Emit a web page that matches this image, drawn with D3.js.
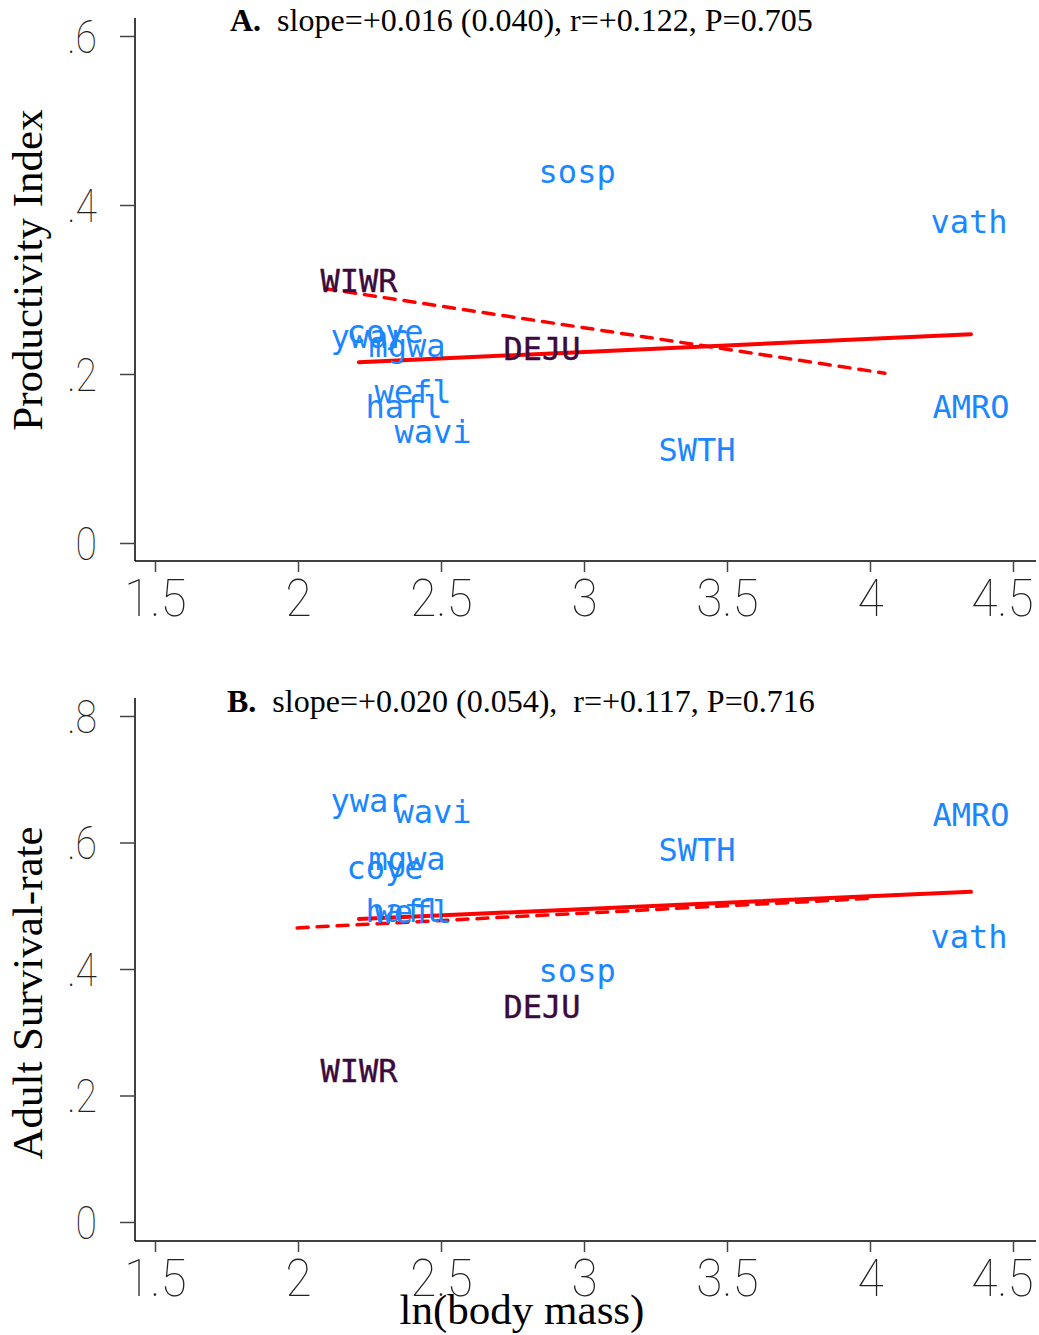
<!DOCTYPE html>
<html>
<head>
<meta charset="utf-8">
<script src="https://cdn.jsdelivr.net/npm/d3@7"></script>
<style>
  body { margin: 0; background: #fff; }
  svg { display: block; }
</style>
</head>
<body>
<svg width="1039" height="1335"></svg>
<script>
// species, ln(body mass), and the two response values
var species = ["WIWR", "ywar", "coye", "hafl", "mgwa", "wefl", "wavi", "DEJU", "sosp", "SWTH", "vath", "AMRO"];
var lnMass = [2.213, 2.248, 2.304, 2.371, 2.381, 2.402, 2.472, 2.853, 2.976, 3.395, 4.346, 4.353];
var productivity = [0.310, 0.244, 0.250, 0.161, 0.233, 0.179, 0.131, 0.230, 0.439, 0.110, 0.380, 0.161];
var survival = [0.239, 0.666, 0.560, 0.492, 0.574, 0.490, 0.648, 0.340, 0.397, 0.588, 0.451, 0.643];
var darkSpecies = ["WIWR", "DEJU"];

// fitted lines (endpoints)
var fitA = [[2.213, 0.214], [4.353, 0.247]];
var fitADash = [[2.094, 0.301], [4.052, 0.201]];
var fitB = [[2.213, 0.479], [4.353, 0.522]];
var fitBDash = [[1.997, 0.465], [4.017, 0.512]];

var xTicks = [1.5, 2, 2.5, 3, 3.5, 4, 4.5];
var yTicksA = [0, 0.2, 0.4, 0.6];
var yTicksB = [0, 0.2, 0.4, 0.6, 0.8];

var titleA = "slope=+0.016 (0.040), r=+0.122, P=0.705";
var titleB = "slope=+0.020 (0.054),  r=+0.117, P=0.716";

var svg = d3.select("svg");
var blue = "#1a87ff", dark = "#3c0a3c";

var xScale = d3.scaleLinear().domain([1.5, 4.5]).range([155, 1013]);

var fmt = function(d) { return d === 0 ? "0" : d3.format(".1f")(d).replace("0.", "."); };

var drawPanel = function(opt)
{
    var yScale = d3.scaleLinear().domain(opt.yDomain).range(opt.yRange);
    var g = svg.append("g");

    // axis lines
    g.append("line").attr("x1", 135).attr("x2", 135)
        .attr("y1", opt.top).attr("y2", opt.bottom)
        .attr("stroke", "#000").attr("stroke-width", 1.5);
    g.append("line").attr("x1", 135).attr("x2", 1036)
        .attr("y1", opt.bottom).attr("y2", opt.bottom)
        .attr("stroke", "#000").attr("stroke-width", 1.5);

    // x axis
    var xAxis = g.append("g")
        .attr("transform", "translate(0," + opt.bottom + ")")
        .call(d3.axisBottom(xScale).tickValues(xTicks).tickSize(11).tickPadding(0).tickFormat(d3.format("")));
    xAxis.select(".domain").remove();
    xAxis.selectAll("line").attr("stroke", "#444").attr("stroke-width", 1.5);
    xAxis.selectAll("text")
        .attr("y", 55).attr("dy", 0)
        // last label is pulled in so it stays inside the frame
        .attr("x", function(d) { return d === 4.5 ? -11 / 0.92 : 0; })
        .attr("transform", "scale(0.92,1)")
        .style("font-family", "Roboto, 'DejaVu Sans', sans-serif")
        .style("font-weight", 100)
        .style("font-size", "52px")
        .attr("fill", "#222");

    // y axis
    var yAxis = g.append("g")
        .attr("transform", "translate(135,0)")
        .call(d3.axisLeft(yScale).tickValues(opt.yTicks).tickSize(15).tickPadding(0).tickFormat(fmt));
    yAxis.select(".domain").remove();
    yAxis.selectAll("line").attr("stroke", "#444").attr("stroke-width", 1.5);
    yAxis.selectAll("text")
        .attr("x", -38 / 0.85).attr("dy", 16)
        .attr("transform", "scale(0.85,1)")
        .style("font-family", "Roboto, 'DejaVu Sans', sans-serif")
        .style("font-weight", 100)
        .style("font-size", "46px")
        .attr("fill", "#222");

    // fit lines
    var line = d3.line().x(function(d) { return xScale(d[0]); }).y(function(d) { return yScale(d[1]); });
    g.append("path").datum(opt.dash).attr("d", line)
        .attr("fill", "none").attr("stroke", "#ff0000").attr("stroke-width", 3.5)
        .attr("stroke-dasharray", "11,9").attr("stroke-linecap", "round");
    g.append("path").datum(opt.fit).attr("d", line)
        .attr("fill", "none").attr("stroke", "#ff0000").attr("stroke-width", 4)
        .attr("stroke-linecap", "round");

    // species labels
    var pts = species.map(function(s, i) { return {name: s, x: lnMass[i], y: opt.values[i]}; });
    g.selectAll("text.sp")
        .data(pts)
        .enter()
        .append("text")
        .attr("class", "sp")
        .attr("x", function(d) { return xScale(d.x); })
        .attr("y", function(d) { return yScale(d.y); })
        .attr("dy", 11)
        .attr("text-anchor", "middle")
        .style("font-family", "'DejaVu Sans Mono', monospace")
        .style("font-size", "32px")
        .attr("fill", function(d) { return darkSpecies.indexOf(d.name) >= 0 ? dark : blue; })
        .attr("stroke", function(d) { return darkSpecies.indexOf(d.name) >= 0 ? dark : "none"; })
        .attr("stroke-width", 0.4)
        .text(function(d) { return d.name; });

    // title
    var t = g.append("text")
        .attr("x", opt.titleX).attr("y", opt.titleY)
        .attr("xml:space", "preserve")
        .style("font-family", "'Liberation Serif', 'Times New Roman', serif")
        .style("font-size", "32px")
        .attr("fill", "#000");
    t.append("tspan").style("font-weight", "bold").text(opt.letter);
    t.append("tspan").text("  " + opt.title);

    // y title
    g.append("text")
        .attr("transform", "translate(42," + opt.yTitleY + ") rotate(-90)")
        .attr("text-anchor", "middle")
        .style("font-family", "'Liberation Serif', 'Times New Roman', serif")
        .style("font-size", "43px")
        .attr("fill", "#000")
        .text(opt.yTitle);
}

drawPanel({
    yDomain: [0, 0.6], yRange: [543, 36], yTicks: yTicksA,
    top: 18, bottom: 561,
    values: productivity, fit: fitA, dash: fitADash,
    letter: "A.", title: titleA, titleX: 230, titleY: 31,
    yTitle: "Productivity Index", yTitleY: 270
});

drawPanel({
    yDomain: [0, 0.8], yRange: [1222, 716], yTicks: yTicksB,
    top: 698, bottom: 1241,
    values: survival, fit: fitB, dash: fitBDash,
    letter: "B.", title: titleB, titleX: 227, titleY: 712,
    yTitle: "Adult Survival-rate", yTitleY: 993
});

svg.append("text")
    .attr("x", 522).attr("y", 1324)
    .attr("text-anchor", "middle")
    .style("font-family", "'Liberation Serif', 'Times New Roman', serif")
    .style("font-size", "43px")
    .attr("fill", "#000")
    .text("ln(body mass)");
</script>
</body>
</html>
